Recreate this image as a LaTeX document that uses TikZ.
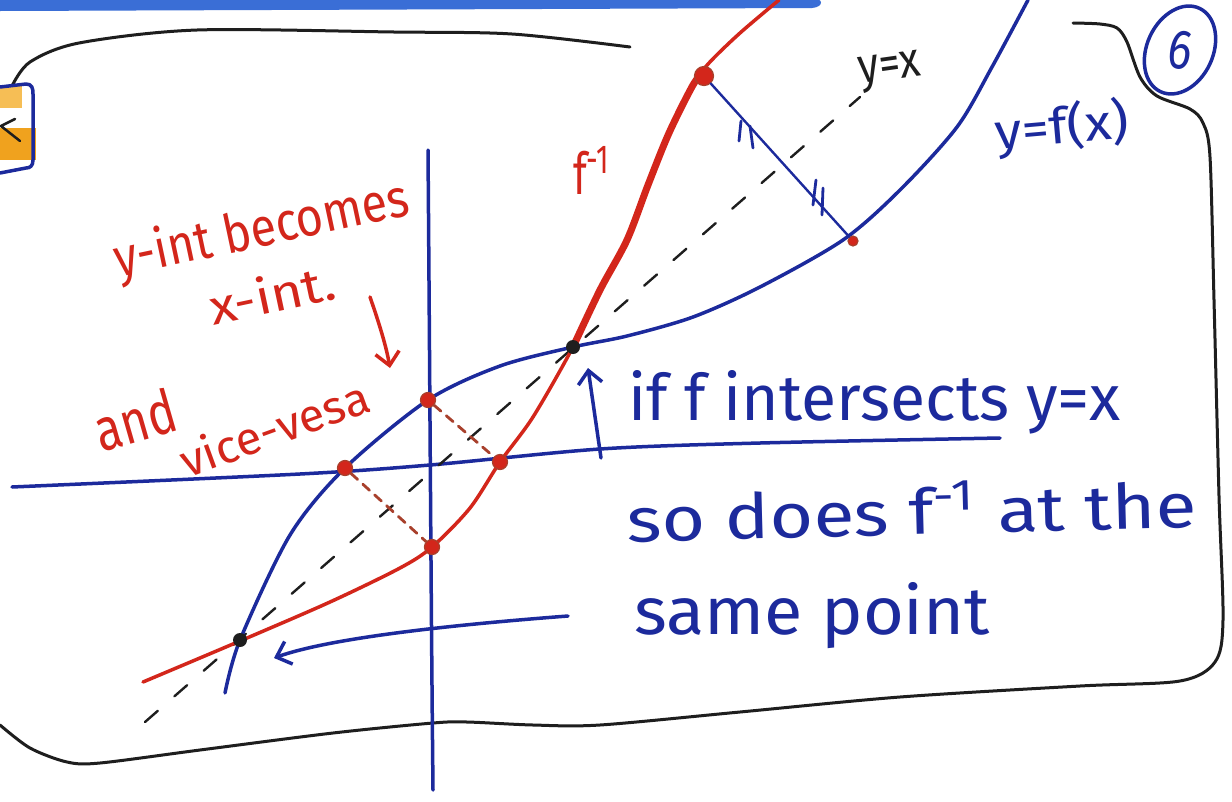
\documentclass[tikz,border=0pt]{standalone}
\usepackage{fontspec}
\setmainfont{Fira Sans}
\usepackage{graphicx}
\usetikzlibrary{arrows.meta}
\definecolor{inkblue}{HTML}{1C2A9C}
\definecolor{inkred}{HTML}{D3261B}
\definecolor{inkdred}{HTML}{A8402C}
\definecolor{inkblack}{HTML}{1E1E1E}
\definecolor{barblue}{HTML}{3A6ED6}
\definecolor{boxor}{HTML}{F0A21E}
\definecolor{boxlt}{HTML}{F6BE55}
\newcommand\fitwh[3]{\resizebox{#1}{#2}{#3}}
\begin{document}
\begin{tikzpicture}[x=1pt,y=-1pt, line cap=round, line join=round,
  bluepen/.style={draw=inkblue, line width=3.5pt},
  redpen/.style={draw=inkred, line width=3.5pt},
  blackpen/.style={draw=inkblack, line width=3pt},
  diag/.style={draw=inkblack, line width=2.4pt, dash pattern=on 17pt off 22pt},
  reddash/.style={draw=inkdred, line width=2.8pt, dash pattern=on 9pt off 7pt},
  bluetxt/.style={text=inkblue, inner sep=0pt},
  redtxt/.style={text=inkred, inner sep=0pt},
  barb/.style={-{Straight Barb[length=13pt,width=24pt,line width=3.5pt]}},
  bdot/.style={circle, fill=inkblack, inner sep=0pt, minimum size=14pt},
  rdot/.style={circle, fill=inkred, draw=inkdred, line width=1.2pt, inner sep=0pt, minimum size=15pt},
]
\useasboundingbox (0,0) rectangle (1232,801);
\fill[white] (0,0) rectangle (1232,801);

% top bar
\fill[barblue] (0,-2) -- (812,-2) .. controls (824,-2) and (824,7) .. (812,8) -- (0,11) -- cycle;

% border
\draw[blackpen] plot[smooth] coordinates {(12,86) (30,62) (79,43) (197,30) (394,32) (512,34) (630,47)};
\draw[blackpen] plot[smooth] coordinates {(1073,23) (1100,24) (1117,28) (1127,42) (1140,77) (1157,96) (1190,109) (1203,123) (1210,157) (1214,300) (1219,496) (1223,620) (1215,662) (1180,681) (1080,686) (900,697) (740,712) (600,725) (533,725) (467,722) (433,723) (333,733) (200,750) (100,763) (67,762) (30,748) (0,725)};

% small box at top left
\fill[boxlt] (0,86) rectangle (22,108);
\fill[boxor] (0,128) rectangle (36,160);
\draw[bluepen] (0,87) -- (26,84) .. controls (32,84) and (33,88) .. (33,94) -- (33,160) .. controls (33,166) and (30,168) .. (26,168) -- (0,173);
\draw[blackpen, line width=2.5pt] (15,119) -- (1,126) -- (20,141);

% axes
\draw[bluepen] plot[smooth] coordinates {(12,487) (300,474) (430,465) (600,449) (760,443) (1000,438)};
\draw[bluepen] (428,150) .. controls (430,400) and (431,600) .. (433,790);

% y = x
\coordinate (d0) at (145,722);
\coordinate (d1) at (860,97);
\draw[diag] (d0) -- (d1);

% f
\draw[bluepen] plot[smooth] coordinates {(225,693) (240,640) (290,535) (345,468) (428,400) (500,366) (573,347) (627,336) (693,317) (760,287) (843,240) (900,190) (957,127) (992,67) (1028,0)};

% f^{-1}
\draw[redpen] plot[smooth] coordinates {(143,682) (240,641) (330,602) (400,568) (432,547) (470,508) (500,462) (533,417) (573,347) (600,290) (627,240) (648,185) (669,133) (693,85) (709,63) (740,33) (779,0)};
\draw[redpen, line width=7pt] plot[smooth] coordinates {(573,347) (600,290) (627,240) (648,185) (669,133) (693,85) (705,70)};

% points
\node[bdot] (p1) at (240,640) {};
\node[bdot] (p2) at (573,347) {};
\node[rdot] (xf) at (345,468) {};
\node[rdot] (yf) at (428,400) {};
\node[rdot] (yg) at (432,547) {};
\node[rdot] (xg) at (500,462) {};
\node[rdot, minimum size=19pt] (big) at (704,76) {};
\node[rdot, minimum size=10pt] (small) at (853,241) {};

% reflections
\draw[reddash] (xf) -- (yg);
\draw[reddash] (yf) -- (xg);
\draw[bluepen, line width=2.4pt] (big) -- (small);
\draw[bluepen, line width=2.8pt] (741,121) -- (739,141) (750,126) -- (753,148);
\draw[bluepen, line width=2.8pt] (816,180) -- (813,205) (823,188) -- (822,215);

% arrows
\coordinate (ua0) at (601,458);
\coordinate (ua1) at (588,368);
\draw[bluepen, barb] (ua0) -- (ua1);
\coordinate (la0) at (568,616);
\coordinate (la1) at (274,658);
\draw[bluepen, barb] (la0) .. controls (450,625) and (330,638) .. (la1);
\coordinate (ra0) at (370,297);
\coordinate (ra1) at (390,368);
\draw[redpen, barb] (ra0) .. controls (378,320) and (386,345) .. (ra1);

% red texts
\node[redtxt, rotate=12] (ybec) at (262,231) {\fitwh{300pt}{42pt}{y-int becomes}};
\node[redtxt, rotate=12] (xint) at (272,294) {\fitwh{128pt}{38pt}{x-int.}};
\node[redtxt, rotate=16] (and) at (135,420) {\fitwh{82pt}{45pt}{and}};
\node[redtxt, rotate=20] (vice) at (274,428) {\fitwh{198pt}{36pt}{vice-vesa}};
\node[redtxt] (finv) at (592,170) {\fitwh{38pt}{48pt}{f\textsuperscript{-1}}};

% labels
\node[text=inkblack, inner sep=0pt, rotate=8] (yx) at (890,72) {\fitwh{62pt}{26pt}{y=x}};
\node[bluetxt, rotate=5] (yfx) at (1062,128) {\fitwh{135pt}{42pt}{y=f(x)}};
\draw[bluepen, rotate around={-25:(1180,50)}] (1180,50) ellipse [x radius=33, y radius=46];
\node[bluetxt, rotate=-10] (six) at (1181,50) {\fitwh{24pt}{38pt}{6}};

% blue texts
\node[bluetxt, anchor=base west] (t1) at (628,420) {\fitwh{492pt}{50pt}{if f intersects y=x}};
\node[bluetxt, anchor=base west, rotate=1.5] (t2) at (627,542) {\fitwh{570pt}{52pt}{so does f\textsuperscript{-1} at the}};
\node[bluetxt, anchor=base west] (t3) at (634,634) {\fitwh{356pt}{52pt}{same point}};
\end{tikzpicture}
\end{document}
